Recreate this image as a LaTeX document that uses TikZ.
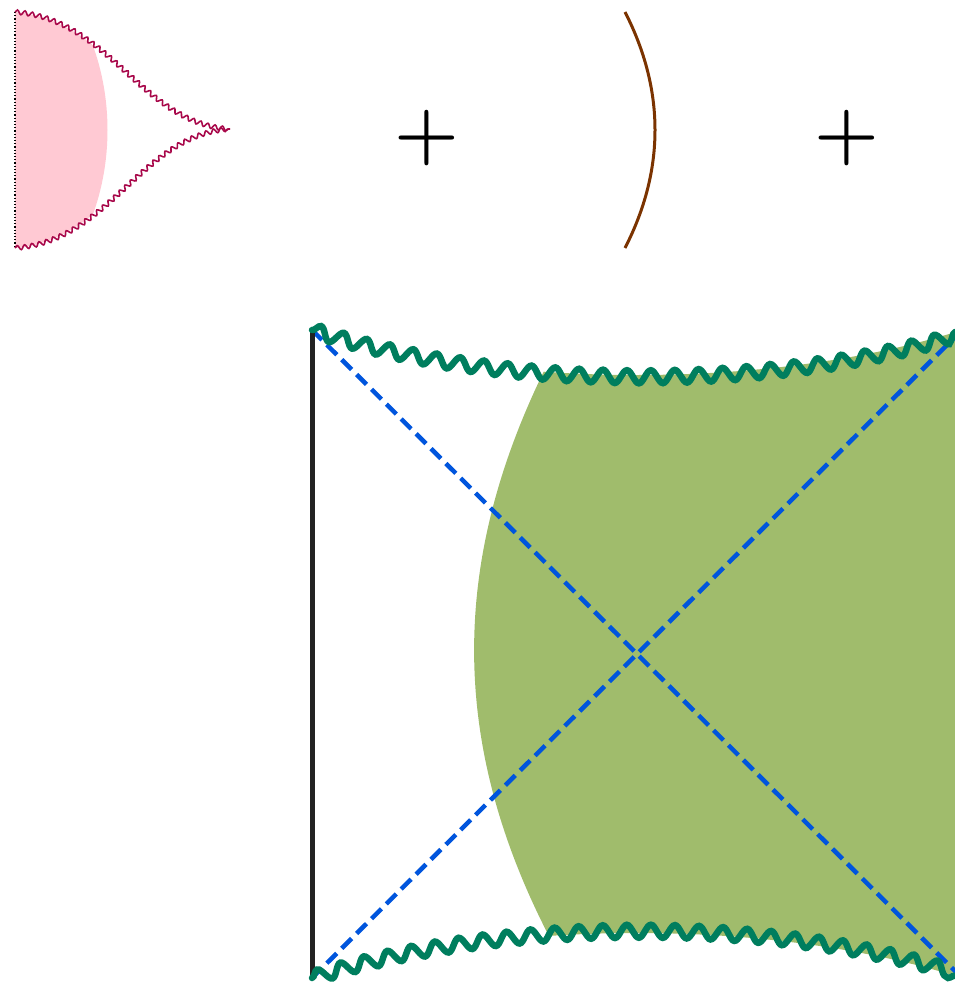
\documentclass[tikz,border=0pt]{standalone}
\usepackage{fontspec}
\usepackage{tikz}
\usetikzlibrary{decorations.pathmorphing}
\definecolor{crimson}{HTML}{A8084A}
\definecolor{pinkfill}{HTML}{FFC9D3}
\definecolor{arcbrown}{HTML}{7B3300}
\definecolor{singgreen}{HTML}{007E5E}
\definecolor{wedgegreen}{HTML}{A0BC6C}
\definecolor{horizonblue}{HTML}{0055DD}
\definecolor{wallblack}{HTML}{222222}

\begin{document}
\begin{tikzpicture}[x=1pt, y=-1pt,
    smallsing/.style={draw=crimson, line width=1.6pt, decorate, decoration={snake, amplitude=2.2pt, segment length=7.5pt}},
    bigsing/.style={draw=singgreen, line width=6.5pt, line cap=round, decorate, decoration={snake, amplitude=6.5pt, segment length=24pt}},
    horizon/.style={draw=horizonblue, line width=4.5pt, dash pattern=on 14pt off 7pt},
    plussign/.style={font=\fontsize{74}{74}\selectfont\bfseries, inner sep=0pt}]
  \useasboundingbox (0,0) rectangle (955,990);
  \coordinate (st) at (15,12);
  \coordinate (sb) at (15,248);
  \coordinate (tip) at (230,129);
  \coordinate (tl) at (312,330);
  \coordinate (bl) at (312,978);
  \coordinate (tr) at (962,330);
  \coordinate (br) at (962,978);
  \begin{scope}
    \clip (st) .. controls (110,20) and (140,125) .. (tip) .. controls (140,133) and (110,240) .. (sb) -- cycle;
    \fill[pinkfill] (70,0) .. controls (120,75) and (120,185) .. (70,260) -- (0,260) -- (0,0) -- cycle;
  \end{scope}
  \draw[black, line width=1.2pt, dotted] (st) -- (sb);
  \draw[smallsing] (st) .. controls (110,20) and (140,125) .. (tip);
  \draw[smallsing] (sb) .. controls (110,240) and (140,133) .. (tip);
  \node[plussign] (plusa) at (427,138) {+};
  \draw[arcbrown, line width=3pt] (625,12) .. controls (665,90) and (665,170) .. (625,248);
  \node[plussign] (plusb) at (847,138) {+};
  \begin{scope}
    \clip (tl) .. controls (500,390) and (774,390) .. (tr) -- (br) .. controls (774,918) and (500,918) .. (bl) -- cycle;
    \fill[wedgegreen] (552,355) .. controls (447,560) and (447,750) .. (559,955) -- (990,1000) -- (990,300) -- cycle;
  \end{scope}
  \foreach \a/\b in {tl/br,bl/tr}{\draw[horizon] (\a) -- (\b);}
  \draw[wallblack, line width=5pt] (tl) -- (bl);
  \draw[bigsing] (tl) .. controls (500,390) and (774,390) .. (tr);
  \draw[bigsing] (bl) .. controls (500,918) and (774,918) .. (br);
\end{tikzpicture}
\end{document}
